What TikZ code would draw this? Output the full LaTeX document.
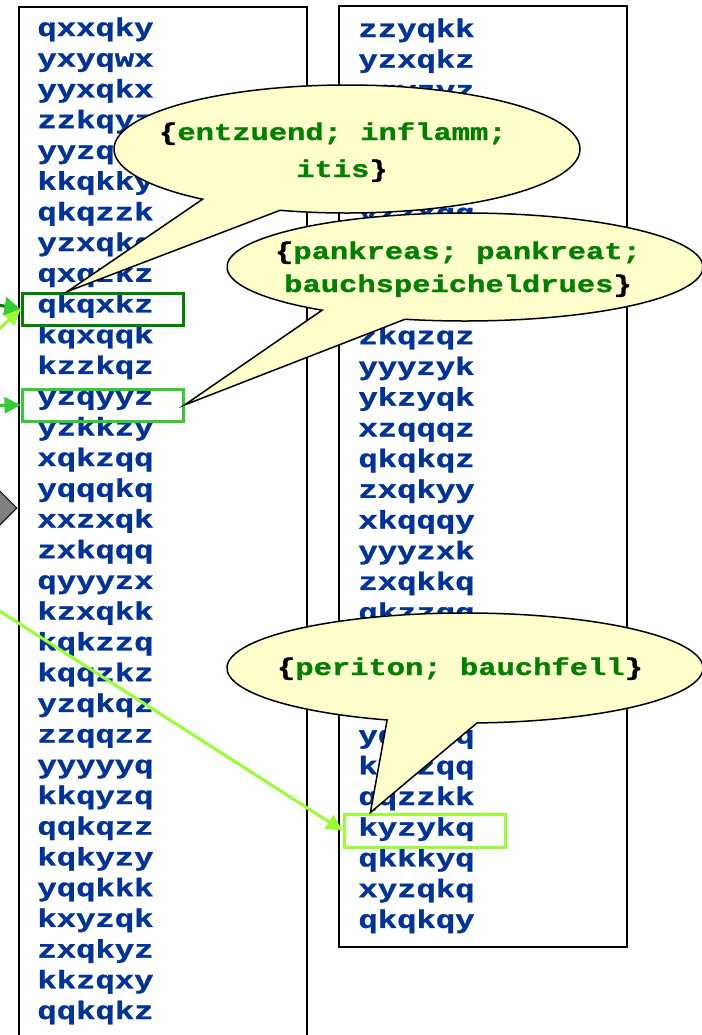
\documentclass[tikz,border=0pt]{standalone}
\usepackage{fontspec}
\usetikzlibrary{shapes.geometric,arrows.meta,calc}
\newfontfamily\listfont[FakeStretch=1.27,FakeBold=1.2]{Liberation Mono}
\definecolor{listblue}{HTML}{003399}
\definecolor{boxdark}{HTML}{008000}
\definecolor{boxmid}{HTML}{33CC33}
\definecolor{boxlime}{HTML}{99FF33}
\definecolor{calloutfill}{HTML}{FFFFCC}
\definecolor{termgreen}{HTML}{008000}
\definecolor{shapegray}{HTML}{808080}
\tikzset{
  entry/.style={anchor=base west, inner sep=0pt, text=listblue,
    font=\listfont\bfseries\fontsize{12.7}{14}\selectfont},
  term/.style={anchor=base, inner sep=0pt, text=termgreen,
    font=\listfont\bfseries\fontsize{12}{14}\selectfont},
  column/.style={draw=black, line width=1pt, fill=white},
  hilite/.style={draw, line width=1.5pt, minimum width=80.5pt,
    minimum height=16pt, inner sep=0pt},
  callout/.style={draw=black, line width=0.75pt, fill=calloutfill},
  link/.style={line width=1.5pt, -{Triangle[length=8pt,width=8pt]}},
}
\newcommand\lbr{{\color{black}\{}}
\newcommand\rbr{{\color{black}\}}}
\begin{document}
\begin{tikzpicture}[x=0.5pt,y=-0.5pt]
\path[use as bounding box] (0,0) rectangle (702,1035);
\clip (0,0) rectangle (702,1035);
\fill[white] (0,0) rectangle (702,1035);

% the two word columns
\draw[column] (19,7) rectangle (307,1050);
\draw[column] (339,6) rectangle (627,947);

% decision shape at the left margin
\node[diamond, draw=black, fill=shapegray, line width=0.5pt, minimum width=23pt,
      minimum height=23pt, inner sep=0pt] (D) at (-6,508) {};

% left column entries
\foreach \i/\t in {1/qxxqky, 2/yxyqwx, 3/yyxqkx, 4/zzkqyz, 5/yyzqkk, 6/kkqkky,
  7/qkqzzk, 8/yzxqkq, 9/qxqzkz, 10/qkqxkz, 11/kqxqqk, 12/kzzkqz, 13/yzqyyz,
  14/yzkkzy, 15/xqkzqq, 16/yqqqkq, 17/xxzxqk, 18/zxkqqq, 19/qyyyzx, 20/kzxqkk,
  21/kqkzzq, 22/kqqzkz, 23/yzqkqz, 24/zzqqzz, 25/yyyyyq, 26/kkqyzq, 27/qqkqzz,
  28/kqkyzy, 29/yqqkkk, 30/kxyzqk, 31/zxqkyz, 32/kkzqxy, 33/qqkqkz}
  \node[entry] (L\i) at (37,{36+30.72*(\i-1)}) {\t};

% right column entries
\foreach \i/\t in {1/zzyqkk, 2/yzxqkz, 3/yqyzyz, 7/yzzxqq, 11/zkqzqz, 12/yyyzyk,
  13/ykzyqk, 14/xzqqqz, 15/qkqkqz, 16/zxqkyy, 17/xkqqqy, 18/yyyzxk, 19/zxqkkq,
  20/qkzzqq, 24/yqzkkq, 25/kxyzqq, 26/qqzzkk, 27/kyzykq, 28/qkkkyq, 29/xyzqkq,
  30/qkqkqy}
  \node[entry] (R\i) at (358,{37+30.72*(\i-1)}) {\t};

% highlighted entries
\node[hilite, draw=boxdark] (B1) at (102.5,309) {};
\node[hilite, draw=boxmid] (B2) at (102.5,405) {};
\node[hilite, draw=boxlime, minimum height=16.5pt] (B3) at (424.5,830.5) {};

% callouts
\coordinate (e1) at (347,149);
\coordinate (e2) at (465,267);
\coordinate (e3) at (465,668);
\draw[callout] (e1) ++(128.3:233 and 64)
  arc[start angle=128.3, end angle=466.7, x radius=233, y radius=64]
  -- ($(B1.north west)!0.286!(B1.north east)$) -- cycle;
\draw[callout] (e2) ++(126.9:238 and 54)
  arc[start angle=126.9, end angle=464.6, x radius=238, y radius=54]
  -- (B2.east) -- cycle;
\draw[callout] (e3) ++(109.1:238 and 55)
  arc[start angle=109.1, end angle=447.1, x radius=238, y radius=55]
  -- ($(B3.north west)!0.17!(B3.north east)$) -- cycle;

\node[term] (c1a) at (342,140) {\lbr entzuend; inflamm;\phantom{x}};
\node[term] (c1b) at (342,177) {itis\rbr};
\node[term] (c2a) at (458,259) {\lbr pankreas; pankreat;};
\node[term] (c2b) at (458,292) {bauchspeicheldrues\rbr};
\node[term] (c3) at (460,675) {\lbr periton; bauchfell\rbr};

% incoming links
\coordinate (s1) at (-30,300);
\coordinate (s2) at (-20,347);
\coordinate (s3) at (-30,406);
\coordinate (s4) at (-30,592);
\draw[link, boxlime] (s2) -- (B1.west);
\draw[link, boxdark, -{Triangle[length=8pt,width=9pt,color=boxmid]}] (s1) -- (B1.west);
\draw[link, boxmid] (s3) -- (B2.west);
\draw[link, boxlime] (s4) -- (B3.west);
\end{tikzpicture}
\end{document}
